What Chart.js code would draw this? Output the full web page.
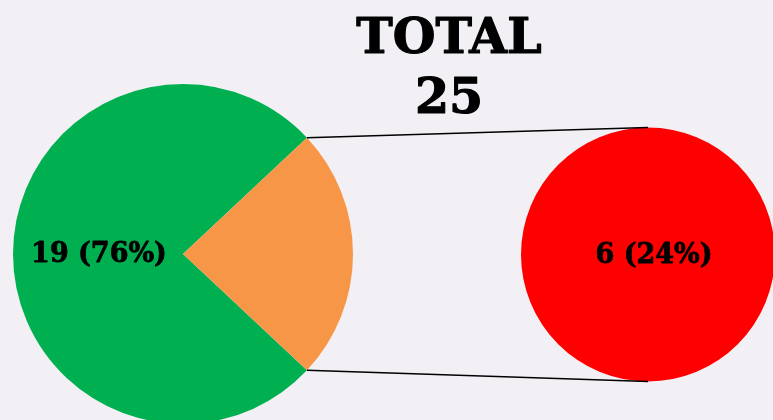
<!DOCTYPE html>
<html lang="en">
<head>
  <meta charset="UTF-8">
  <title>Total 25</title>
  <script src="https://cdn.jsdelivr.net/npm/chart.js"></script>
  <style>
    html, body { margin: 0; padding: 0; overflow: hidden; background: #f2f0f5; width: 773px; height: 420px; }
    .layer { position: absolute; left: 0; top: 0; width: 790px; height: 440px; }
  </style>
</head>
<body>
  <div class="layer"><canvas id="mainPie"></canvas></div>
  <div class="layer"><canvas id="detailPie"></canvas></div>

  <script>
    const totalLabel = 'TOTAL';
    const mainCategories = ['Group A', 'Group B'];
    const mainValues = [19, 6];
    const detailCategories = ['Group B'];
    const detailValues = [6];

    const total = mainValues.reduce((a, b) => a + b, 0);
    const labelFont = 'bold 27px "DejaVu Serif", serif';

    function sliceText(v) {
      return v + ' (' + Math.round(v / total * 100) + '%)';
    }

    // heavy text: fill plus a thin stroke
    function heavyText(ctx, text, x, y, w) {
      ctx.lineWidth = w;
      ctx.strokeStyle = '#000';
      ctx.lineJoin = 'round';
      ctx.strokeText(text, x, y);
      ctx.fillText(text, x, y);
    }

    // rotate so the small slice sits centred on the right side
    const smallShare = mainValues[1] / total * 360;
    const rotation = 90 - (360 - smallShare) - smallShare / 2;

    const mainChart = new Chart(document.getElementById('mainPie'), {
      type: 'pie',
      data: {
        labels: mainCategories,
        datasets: [{
          data: mainValues,
          backgroundColor: ['#00b050', '#f79646'],
          borderWidth: 0,
          hoverOffset: 0
        }]
      },
      options: {
        responsive: true,
        maintainAspectRatio: false,
        animation: false,
        rotation: rotation,
        layout: { padding: { left: 13, top: 84, right: 437, bottom: 16 } },
        plugins: { legend: { display: false }, tooltip: { enabled: false } }
      },
      plugins: [{
        id: 'mainLabel',
        afterDatasetsDraw(chart) {
          const ctx = chart.ctx;
          const arc = chart.getDatasetMeta(0).data[0];
          const p = arc.getCenterPoint();
          ctx.save();
          ctx.font = labelFont;
          ctx.fillStyle = '#000';
          ctx.textAlign = 'center';
          ctx.textBaseline = 'middle';
          heavyText(ctx, sliceText(mainValues[0]), p.x + 1, p.y + 1, 0.8);
          ctx.restore();
        }
      }]
    });

    new Chart(document.getElementById('detailPie'), {
      type: 'pie',
      data: {
        labels: detailCategories,
        datasets: [{
          data: detailValues,
          backgroundColor: ['#ff0000'],
          borderWidth: 0,
          hoverOffset: 0
        }]
      },
      options: {
        responsive: true,
        maintainAspectRatio: false,
        animation: false,
        layout: { padding: { left: 521, top: 127, right: 15, bottom: 58 } },
        plugins: { legend: { display: false }, tooltip: { enabled: false } }
      },
      plugins: [{
        id: 'connectors',
        afterDatasetsDraw(chart) {
          const ctx = chart.ctx;
          const small = mainChart.getDatasetMeta(0).data[1];
          const circle = chart.getDatasetMeta(0).data[0];
          const r = small.outerRadius;
          const a = { x: small.x + r * Math.cos(small.startAngle), y: small.y + r * Math.sin(small.startAngle) };
          const b = { x: small.x + r * Math.cos(small.endAngle), y: small.y + r * Math.sin(small.endAngle) };
          ctx.save();
          ctx.strokeStyle = '#000';
          ctx.lineWidth = 1.5;
          ctx.beginPath();
          ctx.moveTo(a.x, a.y);
          ctx.lineTo(circle.x, circle.y - circle.outerRadius);
          ctx.moveTo(b.x, b.y);
          ctx.lineTo(circle.x, circle.y + circle.outerRadius);
          ctx.stroke();

          ctx.font = labelFont;
          ctx.fillStyle = '#000';
          ctx.textAlign = 'center';
          ctx.textBaseline = 'middle';
          heavyText(ctx, sliceText(detailValues[0]), circle.x + 6, circle.y + 1, 0.8);

          // title
          ctx.font = 'bold 49px "DejaVu Serif", serif';
          ctx.textBaseline = 'alphabetic';
          heavyText(ctx, totalLabel, 449, 53, 1.2);
          heavyText(ctx, String(total), 449, 113, 1.2);
          ctx.restore();
        }
      }]
    });
  </script>
</body>
</html>
